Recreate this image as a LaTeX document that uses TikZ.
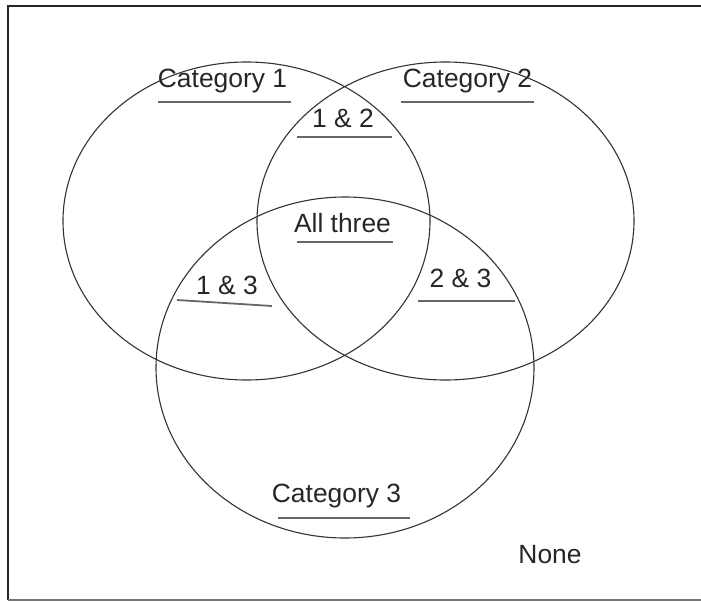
\documentclass[tikz,border=0pt]{standalone}
\usepackage{fontspec}
\setmainfont{Liberation Sans}
\begin{document}
\begin{tikzpicture}[x=1pt,y=-1pt,
  lbl/.style={anchor=base,inner sep=0pt,text=black!85,font=\fontsize{26.4}{30}\selectfont},
  set/.style={draw=black!80,line width=1.1pt},
  uline/.style={draw=black!60,line width=1.8pt}]
\useasboundingbox (0,0) rectangle (701,602);
% frame
\draw[black!85,line width=1.6pt] (8,600) -- (8,6) -- (701,6);
\draw[black!55,line width=1.2pt] (8,600) -- (701,600);
% sets
\draw[set] (246.5,221) ellipse [x radius=183.5, y radius=159];
\draw[set] (445.5,221) ellipse [x radius=188.5, y radius=159];
\draw[set] (345,367.5) ellipse [x radius=189, y radius=170.5];
% labels
\node[lbl] (c1) at (222.5,87) {Category 1};
\node[lbl] (c2) at (467.5,88) {Category 2};
\node[lbl] (c12) at (343,127) {1 \& 2};
\node[lbl] (all) at (342.5,232) {All three};
\node[lbl] (c13) at (227,294) {1 \& 3};
\node[lbl] (c23) at (460.5,287) {2 \& 3};
\node[lbl] (c3) at (336.5,502) {Category 3};
\node[lbl] (none) at (550,563) {None};
% underlines
\draw[uline] (158,102) -- (291,102);
\draw[uline] (401,102) -- (534,102);
\draw[uline] (297,137) -- (392,137);
\draw[uline] (297,242) -- (393,242);
\draw[uline] (177,300) -- (272,306);
\draw[uline] (418,301) -- (515,301);
\draw[uline] (278,518) -- (410,518);
\end{tikzpicture}
\end{document}
